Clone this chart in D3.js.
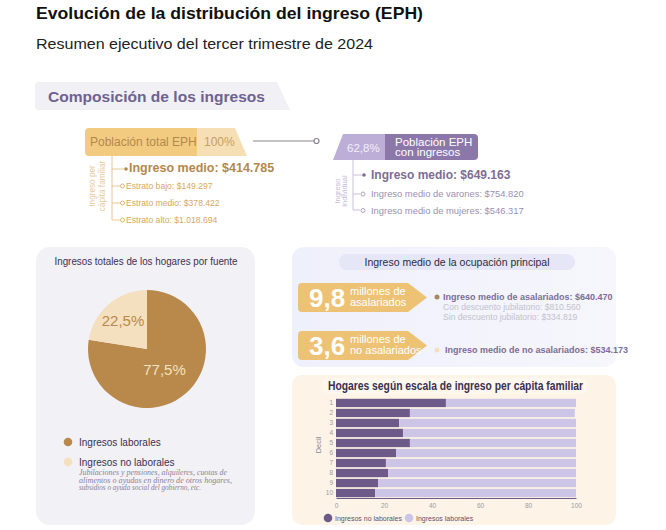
<!DOCTYPE html>
<html><head><meta charset="utf-8">
<script src="https://cdn.jsdelivr.net/npm/d3@7"></script>
<style>
html,body{margin:0;padding:0;background:#fff;}
svg{display:block;font-family:"Liberation Sans",Arial,sans-serif;}
</style></head>
<body><svg id="c" width="666" height="530"></svg>
<script>
// ---------- data ----------
const pieCategories = ["Ingresos laborales", "Ingresos no laborales"];
const pieValues = [77.5, 22.5];
const pieLabels = ["77,5%", "22,5%"];

const deciles = ["1","2","3","4","5","6","7","8","9","10"];
const noLaborales = [45.8, 30.8, 26.3, 27.9, 30.8, 25.0, 20.8, 21.7, 17.5, 16.3];
const laborales   = [54.2, 68.7, 73.7, 72.1, 69.2, 75.0, 79.2, 78.3, 82.5, 83.7];
const xTicks = [0, 20, 40, 60, 80, 100];
const barSeries = ["Ingresos no laborales", "Ingresos laborales"];

const hogarItems = ["Estrato bajo: $149.297", "Estrato medio: $378.422", "Estrato alto: $1.018.694"];
const indivItems = ["Ingreso medio de varones: $754.820", "Ingreso medio de mujeres: $546.317"];

const svg = d3.select("#c");

// ---------- header ----------
svg.append("text").attr("x",36).attr("y",19).attr("font-size",17).attr("font-weight","bold").attr("fill","#111")
  .attr("textLength",387).attr("lengthAdjust","spacingAndGlyphs")
  .text("Evolución de la distribución del ingreso (EPH)");
svg.append("text").attr("x",36).attr("y",49).attr("font-size",15).attr("fill","#222")
  .attr("textLength",337).attr("lengthAdjust","spacingAndGlyphs")
  .text("Resumen ejecutivo del tercer trimestre de 2024");

// section tab
svg.append("path").attr("d","M39,82 L277,82 L290,110 L39,110 Q35,110 35,106 L35,86 Q35,82 39,82Z").attr("fill","#f1f0f4");
svg.append("text").attr("x",48).attr("y",102).attr("font-size",15).attr("font-weight","bold").attr("fill","#6e6290")
  .attr("textLength",217).attr("lengthAdjust","spacingAndGlyphs")
  .text("Composición de los ingresos");

// ---------- Población total ----------
svg.append("path").attr("d","M197,128 L235,128 L247,156 L197,156Z").attr("fill","#f6dfb4");
svg.append("path").attr("d","M89,128 L197,128 L197,156 L89,156 Q85,156 85,152 L85,132 Q85,128 89,128Z").attr("fill","#f3cb80");
svg.append("text").attr("x",90).attr("y",146).attr("font-size",12).attr("fill","#b3884a").text("Población total EPH");
svg.append("text").attr("x",204).attr("y",146).attr("font-size",12).attr("fill","#c8a060").text("100%");

// connector
svg.append("line").attr("x1",253).attr("x2",314).attr("y1",141).attr("y2",141).attr("stroke","#8a8590").attr("stroke-width",1.2);
svg.append("circle").attr("cx",316.5).attr("cy",141).attr("r",2.5).attr("fill","#fff").attr("stroke","#8a8590").attr("stroke-width",1.2);

// left tree
const tanLine = "#e6c891";
svg.append("path").attr("d","M112,156 L112,220 L120,220").attr("fill","none").attr("stroke",tanLine).attr("stroke-width",1);
[169,186,203].forEach(y=>{
  svg.append("line").attr("x1",112).attr("x2",y===169?124:120).attr("y1",y).attr("y2",y).attr("stroke",tanLine);
});
const lt = svg.append("text").attr("transform","translate(96,186) rotate(-90)").attr("text-anchor","middle").attr("font-size",8.2).attr("fill","#e8c99a");
lt.append("tspan").attr("x",0).attr("dy",-1).text("Ingreso per");
lt.append("tspan").attr("x",0).attr("dy",10).text("cápita familiar");
svg.append("circle").attr("cx",126).attr("cy",169).attr("r",1.8).attr("fill","#b3884a");
svg.append("text").attr("x",129).attr("y",172).attr("font-size",12.5).attr("font-weight","bold").attr("fill","#b3884a").text("Ingreso medio: $414.785");
hogarItems.forEach((t,i)=>{
  const y = 186 + i*17;
  svg.append("circle").attr("cx",122.5).attr("cy",y).attr("r",2).attr("fill","#fff").attr("stroke","#d8ae6c").attr("stroke-width",0.9);
  svg.append("text").attr("x",126).attr("y",y+3).attr("font-size",8.6).attr("fill","#d6a862").text(t);
});

// ---------- Población con ingresos ----------
svg.append("path").attr("d","M343,134 L385,134 L385,160 L333,160Z").attr("fill","#bcaed6");
svg.append("path").attr("d","M385,134 L474,134 Q478,134 478,138 L478,156 Q478,160 474,160 L385,160Z").attr("fill","#8b78a9");
svg.append("text").attr("x",347).attr("y",152).attr("font-size",11.5).attr("fill","#f3effa").text("62,8%");
svg.append("text").attr("x",395).attr("y",145.5).attr("font-size",11.5).attr("fill","#fff").text("Población EPH");
svg.append("text").attr("x",395).attr("y",156).attr("font-size",11.5).attr("fill","#fff").text("con ingresos");

const purLine = "#cbc0dc";
svg.append("path").attr("d","M353,160 L353,210 L360,210").attr("fill","none").attr("stroke",purLine).attr("stroke-width",1);
[175,194].forEach(y=>svg.append("line").attr("x1",353).attr("x2",y===175?362:360).attr("y1",y).attr("y2",y).attr("stroke",purLine));
const rt = svg.append("text").attr("transform","translate(340,191) rotate(-90)").attr("text-anchor","middle").attr("font-size",7.5).attr("fill","#c8bcd8");
rt.append("tspan").attr("x",0).attr("dy",0).text("Ingreso");
rt.append("tspan").attr("x",0).attr("dy",7).text("individual");
svg.append("circle").attr("cx",364).attr("cy",175).attr("r",1.8).attr("fill","#7d6d95");
svg.append("text").attr("x",371).attr("y",178.5).attr("font-size",12).attr("font-weight","bold").attr("fill","#7d6d95").text("Ingreso medio: $649.163");
indivItems.forEach((t,i)=>{
  const y = 194 + i*16.5;
  svg.append("circle").attr("cx",363).attr("cy",y).attr("r",2).attr("fill","#fff").attr("stroke","#a497bc").attr("stroke-width",0.9);
  svg.append("text").attr("x",371).attr("y",y+3.3).attr("font-size",9.4).attr("fill","#9b8fb2").text(t);
});

// ---------- Pie card ----------
svg.append("rect").attr("x",36).attr("y",247).attr("width",219).attr("height",278).attr("rx",14).attr("fill","#f2f1f6");
svg.append("text").attr("x",146).attr("y",265).attr("text-anchor","middle").attr("font-size",10.5).attr("fill","#3a3050")
  .attr("textLength",183).attr("lengthAdjust","spacingAndGlyphs").text("Ingresos totales de los hogares por fuente");
const pieColors = d3.scaleOrdinal().domain(pieCategories).range(["#b9894c","#f4e0bf"]);
const pieGen = d3.pie().sort(null).value(d=>d.v);
const pieData = pieGen(pieCategories.map((c,i)=>({c, v:pieValues[i], l:pieLabels[i]})));
const arc = d3.arc().innerRadius(0).outerRadius(59);
const pg = svg.append("g").attr("transform","translate(147,349)");
pg.selectAll("path").data(pieData).join("path").attr("d",arc).attr("fill",d=>pieColors(d.data.c));
const labelR = [27, 37];
pg.selectAll("text").data(pieData).join("text")
  .attr("transform",(d,i)=>{const c=d3.arc().innerRadius(labelR[i]).outerRadius(labelR[i]).centroid(d); return `translate(${c[0]},${c[1]})`;})
  .attr("text-anchor","middle").attr("dy","0.35em").attr("font-size",15)
  .attr("fill",(d,i)=>i===0?"#f4e0bf":"#b9894c").text(d=>d.data.l);

// legend
pieCategories.forEach((c,i)=>{
  const y = 442 + i*20;
  svg.append("circle").attr("cx",68).attr("cy",y).attr("r",4.3).attr("fill",pieColors(c));
  svg.append("text").attr("x",79).attr("y",y+3.5).attr("font-size",10).attr("fill","#3a3050").text(c);
});
const note = ["Jubilaciones y pensiones, alquileres, cuotas de","alimentos o ayudas en dinero de otros hogares,","subsidios o ayuda social del gobierno, etc."];
const noteW = [148, 153, 122];
note.forEach((t,i)=>svg.append("text").attr("x",79).attr("y",475+i*7.5).attr("font-family","'Liberation Serif',serif").attr("font-style","italic")
  .attr("font-size",7.8).attr("fill","#8a8296").attr("textLength",noteW[i]).attr("lengthAdjust","spacingAndGlyphs").text(t));

// ---------- Ocupación card ----------
const grad = svg.append("defs").append("linearGradient").attr("id","og").attr("x1","0").attr("x2","1");
grad.append("stop").attr("offset","0").attr("stop-color","#eef0fb");
grad.append("stop").attr("offset","1").attr("stop-color","#f6f6fc");
svg.append("rect").attr("x",292).attr("y",247).attr("width",324).attr("height",120).attr("rx",12).attr("fill","url(#og)");
svg.append("rect").attr("x",339).attr("y",254).attr("width",236).attr("height",16).attr("rx",8).attr("fill","#e5e7f6");
svg.append("text").attr("x",457).attr("y",266).attr("text-anchor","middle").attr("font-size",10.5).attr("fill","#2e2840").text("Ingreso medio de la ocupación principal");

function tag(y, big, l1, l2){
  svg.append("path").attr("d",`M302,${y} L408,${y} L427,${y+14.5} L408,${y+29} L302,${y+29} Q298,${y+29} 298,${y+25} L298,${y+4} Q298,${y} 302,${y}Z`).attr("fill","#edc274");
  svg.append("text").attr("x",309).attr("y",y+24).attr("font-size",26).attr("font-weight","bold").attr("fill","#fff").text(big);
  svg.append("text").attr("x",350).attr("y",y+12).attr("font-size",11).attr("fill","#fff").text(l1);
  svg.append("text").attr("x",350).attr("y",y+23).attr("font-size",11).attr("fill","#fff").text(l2);
}
tag(283,"9,8","millones de","asalariados");
tag(331,"3,6","millones de","no asalariados");
svg.append("circle").attr("cx",437).attr("cy",297).attr("r",2.5).attr("fill","#a9885e");
svg.append("text").attr("x",443).attr("y",300).attr("font-size",9).attr("font-weight","bold").attr("fill","#7d6d95").text("Ingreso medio de asalariados: $640.470");
svg.append("text").attr("x",443).attr("y",310).attr("font-size",8.6).attr("fill","#c3c2cc").text("Con descuento jubilatorio: $810.560");
svg.append("text").attr("x",443).attr("y",320).attr("font-size",8.6).attr("fill","#c3c2cc").text("Sin descuento jubilatorio: $334.819");
svg.append("circle").attr("cx",437).attr("cy",350).attr("r",2.5).attr("fill","#f4e0bf");
svg.append("text").attr("x",445).attr("y",353).attr("font-size",9).attr("font-weight","bold").attr("fill","#7d6d95").text("Ingreso medio de no asalariados: $534.173");

// ---------- Deciles card ----------
svg.append("rect").attr("x",292).attr("y",375).attr("width",324).attr("height",150).attr("rx",10).attr("fill","#fdf3e6");
svg.append("rect").attr("x",322).attr("y",378).attr("width",266).attr("height",16).attr("rx",6).attr("fill","#fdf7ee");
svg.append("text").attr("x",328).attr("y",390).attr("font-size",12).attr("font-weight","bold").attr("fill","#3a3050")
  .attr("textLength",255).attr("lengthAdjust","spacingAndGlyphs").text("Hogares según escala de ingreso per cápita familiar");

const x = d3.scaleLinear().domain([0,100]).range([336,576]);
const y = d3.scaleBand().domain(deciles).range([398,498]).paddingInner(0.17).paddingOuter(0.08);
const barColor = d3.scaleOrdinal().domain(barSeries).range(["#6d5a89","#cdc5e6"]);
const stackData = deciles.map((d,i)=>({decil:d, "Ingresos no laborales":noLaborales[i], "Ingresos laborales":laborales[i]}));
const stacked = d3.stack().keys(barSeries)(stackData);
svg.append("g").selectAll("g").data(stacked).join("g").attr("fill",s=>barColor(s.key))
  .selectAll("rect").data(s=>s).join("rect")
  .attr("x",d=>x(d[0])).attr("width",d=>x(d[1])-x(d[0]))
  .attr("y",d=>y(d.data.decil)).attr("height",y.bandwidth());

const xa = svg.append("g").attr("transform","translate(0,498)").call(d3.axisBottom(x).tickValues(xTicks).tickSize(0).tickPadding(5));
xa.select(".domain").attr("stroke","#6d5a89").attr("stroke-width",1);
xa.selectAll("text").attr("font-size",6.5).attr("fill","#a09aa8").attr("font-family","'Liberation Sans',sans-serif");
const ya = svg.append("g").attr("transform","translate(333,0)").call(d3.axisLeft(y).tickSize(0).tickPadding(0));
ya.select(".domain").remove();
ya.selectAll("text").attr("font-size",6.5).attr("fill","#a09aa8").attr("font-family","'Liberation Sans',sans-serif");
svg.append("text").attr("transform","translate(321,445) rotate(-90)").attr("text-anchor","middle").attr("font-size",7.5).attr("fill","#8a8494").text("Decil");

barSeries.forEach((s,i)=>{
  const cx = i===0?328:409;
  svg.append("circle").attr("cx",cx).attr("cy",518).attr("r",4.3).attr("fill",barColor(s));
  svg.append("text").attr("x",cx+7).attr("y",520.5).attr("font-size",7).attr("fill","#5a5468").text(s);
});
</script></body></html>
